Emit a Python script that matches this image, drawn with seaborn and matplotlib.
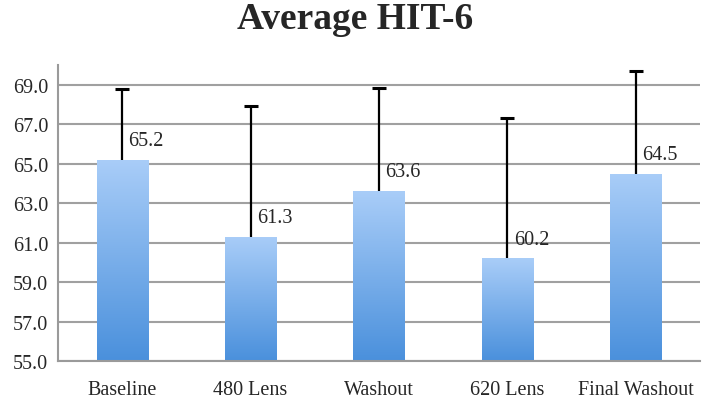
import matplotlib
matplotlib.use("Agg")
import matplotlib.pyplot as plt
import matplotlib.colors as mcolors
import numpy as np
import pandas as pd
import seaborn as sns

categories = ["Baseline", "480 Lens", "Washout", "620 Lens", "Final Washout"]
means = [65.2, 61.3, 63.6, 60.2, 64.5]
err_up = [3.6, 6.6, 5.25, 7.1, 5.2]

df = pd.DataFrame({"phase": categories, "hit6": means})

sns.set_style("white")
plt.rcParams["font.family"] = ["Liberation Serif", "DejaVu Serif"]

fig = plt.figure(figsize=(7.06, 4.02), dpi=100)
ax = fig.add_axes([58 / 706, 1 - 362 / 402, 642 / 706, 296 / 402])

sns.barplot(data=df, x="phase", y="hit6", color="#6fa8e8", width=0.4, ax=ax, zorder=2)
ax.set_ylim(55, 70)
ax.set_xlim(-0.5, 4.5)

# gradient fill clipped to each bar
grad = mcolors.LinearSegmentedColormap.from_list("g", ["#4a90dc", "#a9cdf8"])
for patch in ax.patches:
    x0, y0 = patch.get_x(), patch.get_y()
    w, h = patch.get_width(), patch.get_height()
    img = ax.imshow(np.linspace(0, 1, 256).reshape(-1, 1), cmap=grad, origin="lower",
                    extent=[x0, x0 + w, 55, y0 + h], aspect="auto", zorder=2)
    img.set_clip_path(patch)
    patch.set_facecolor("none")
    patch.set_edgecolor("none")

# upper-only error bars (stem + cap at top)
xs = np.arange(len(categories))
tops = np.array(means) + np.array(err_up)
ax.vlines(xs, means, tops, color="black", linewidth=1.6, zorder=3)
ax.scatter(xs, tops, marker="_", s=110, linewidths=2.2, color="black", zorder=3)

for i, v in enumerate(means):
    ax.text(i + 0.05, v + 0.5, f"{v:.1f}", ha="left", va="bottom", fontsize=14.5)

ax.set_yticks(np.arange(55, 70, 2))
ax.set_yticklabels([f"{t:.1f}" for t in np.arange(55, 70, 2)], fontsize=14.5)
ax.set_xticks(range(len(categories)))
ax.set_xticklabels(categories, fontsize=14.5)
ax.set_xticks(np.arange(-0.5, 5, 1), minor=True)
ax.tick_params(axis="x", which="major", length=0, pad=14)
ax.tick_params(axis="x", which="minor", length=6, width=1.5, color="#9a9a9a", direction="out")
ax.tick_params(axis="y", length=5, width=1.5, color="#9a9a9a", pad=2)
ax.yaxis.grid(True, color="#a0a0a0", linewidth=1.5, zorder=0)
ax.set_axisbelow(True)
ax.set_xlabel("")
ax.set_ylabel("")
for s in ["top", "right"]:
    ax.spines[s].set_visible(False)
for s in ["left", "bottom"]:
    ax.spines[s].set_color("#9a9a9a")
    ax.spines[s].set_linewidth(1.5)

fig.suptitle("Average HIT-6", x=0.503, y=0.995, fontsize=27, fontweight="bold", va="top")

fig.savefig("out.png", dpi=100)
